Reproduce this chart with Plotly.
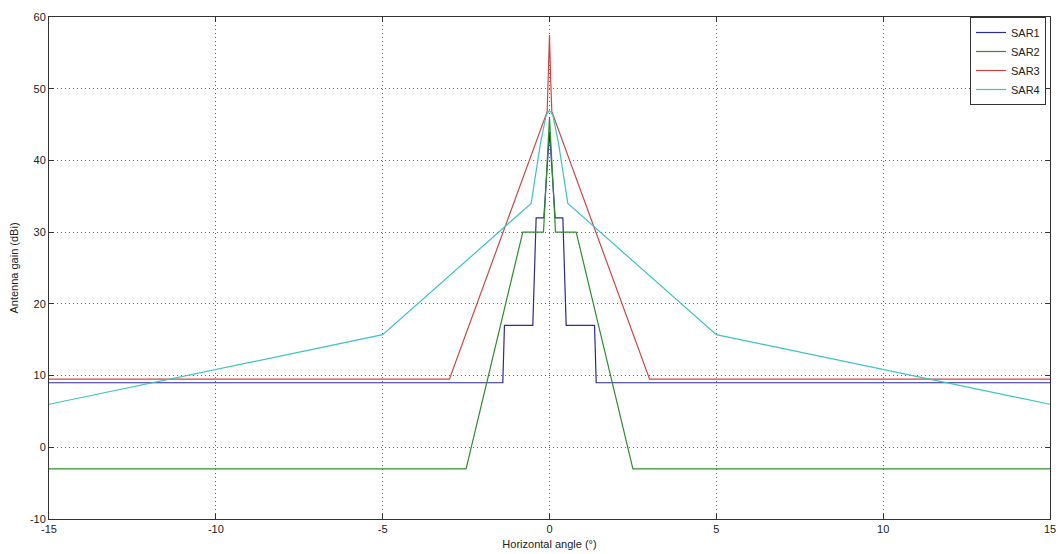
import plotly.graph_objects as go

# ---- data ----
sar1_x = [-15, -1.4, -1.35, -0.5, -0.4, -0.17, 0, 0.17, 0.4, 0.5, 1.35, 1.4, 15]
sar1_y = [9, 9, 17, 17, 32, 32, 44, 32, 32, 17, 17, 9, 9]

sar2_x = [-15, -2.5, -0.8, -0.18, 0, 0.18, 0.8, 2.5, 15]
sar2_y = [-3, -3, 30, 30, 46, 30, 30, -3, -3]

sar3_x = [-15, -3, -0.07, -0.03, 0, 0.03, 0.07, 3, 15]
sar3_y = [9.5, 9.5, 46.8, 52, 57.5, 52, 46.8, 9.5, 9.5]

sar4_x = [-15, -5, -0.55, -0.27, -0.1, 0, 0.1, 0.27, 0.55, 5, 15]
sar4_y = [6, 15.7, 34, 42.4, 46.3, 47, 46.3, 42.4, 34, 15.7, 6]

names = ["SAR1", "SAR2", "SAR3", "SAR4"]
colors = ["#2a2a9a", "#2e8f2e", "#d24444", "#3cc3c3"]

x_ticks = [-15, -10, -5, 0, 5, 10, 15]
x_tick_labels = ["-15", "-10", "-5", "0", "5", "10", "15"]
y_ticks = [-10, 0, 10, 20, 30, 40, 50, 60]
y_tick_labels = ["-10", "0", "10", "20", "30", "40", "50", "60"]

fig = go.Figure()
for name, xs, ys, c in zip(names, [sar1_x, sar2_x, sar3_x, sar4_x],
                           [sar1_y, sar2_y, sar3_y, sar4_y], colors):
    fig.add_trace(go.Scatter(x=xs, y=ys, mode="lines", name=name,
                             line=dict(color=c, width=1.2)))

axis_common = dict(showline=True, linecolor="#333", linewidth=1, mirror="ticks",
                   ticks="inside", ticklen=5, tickcolor="#333",
                   showgrid=True, gridcolor="#666", griddash="1px,3px", gridwidth=1,
                   zeroline=False, automargin=False,
                   tickfont=dict(size=11, color="#222"))

fig.update_xaxes(range=[-15, 15], tickvals=x_ticks, ticktext=x_tick_labels,
                 title=dict(text="Horizontal angle (°)", font=dict(size=11, color="#222"), standoff=6),
                 **axis_common)
fig.update_yaxes(range=[-10, 60], tickvals=y_ticks, ticktext=y_tick_labels,
                 title=dict(text="Antenna gain (dBi)", font=dict(size=11, color="#222"), standoff=9),
                 **axis_common)

fig.update_layout(
    width=1059, height=554,
    margin=dict(l=49, r=9, t=17, b=35, autoexpand=False),
    paper_bgcolor="white", plot_bgcolor="white",
    font=dict(family="Liberation Sans, Arial, sans-serif", size=11, color="#222"),
    legend=dict(x=0.996, y=1.0, xanchor="right", yanchor="top",
                bgcolor="white", bordercolor="#333", borderwidth=1,
                font=dict(size=11), tracegroupgap=0, itemwidth=30),
    showlegend=True,
)

fig.write_html("out.html", config={"displayModeBar": False},
               post_script="document.body.style.margin='0';document.body.style.overflow='hidden';")
